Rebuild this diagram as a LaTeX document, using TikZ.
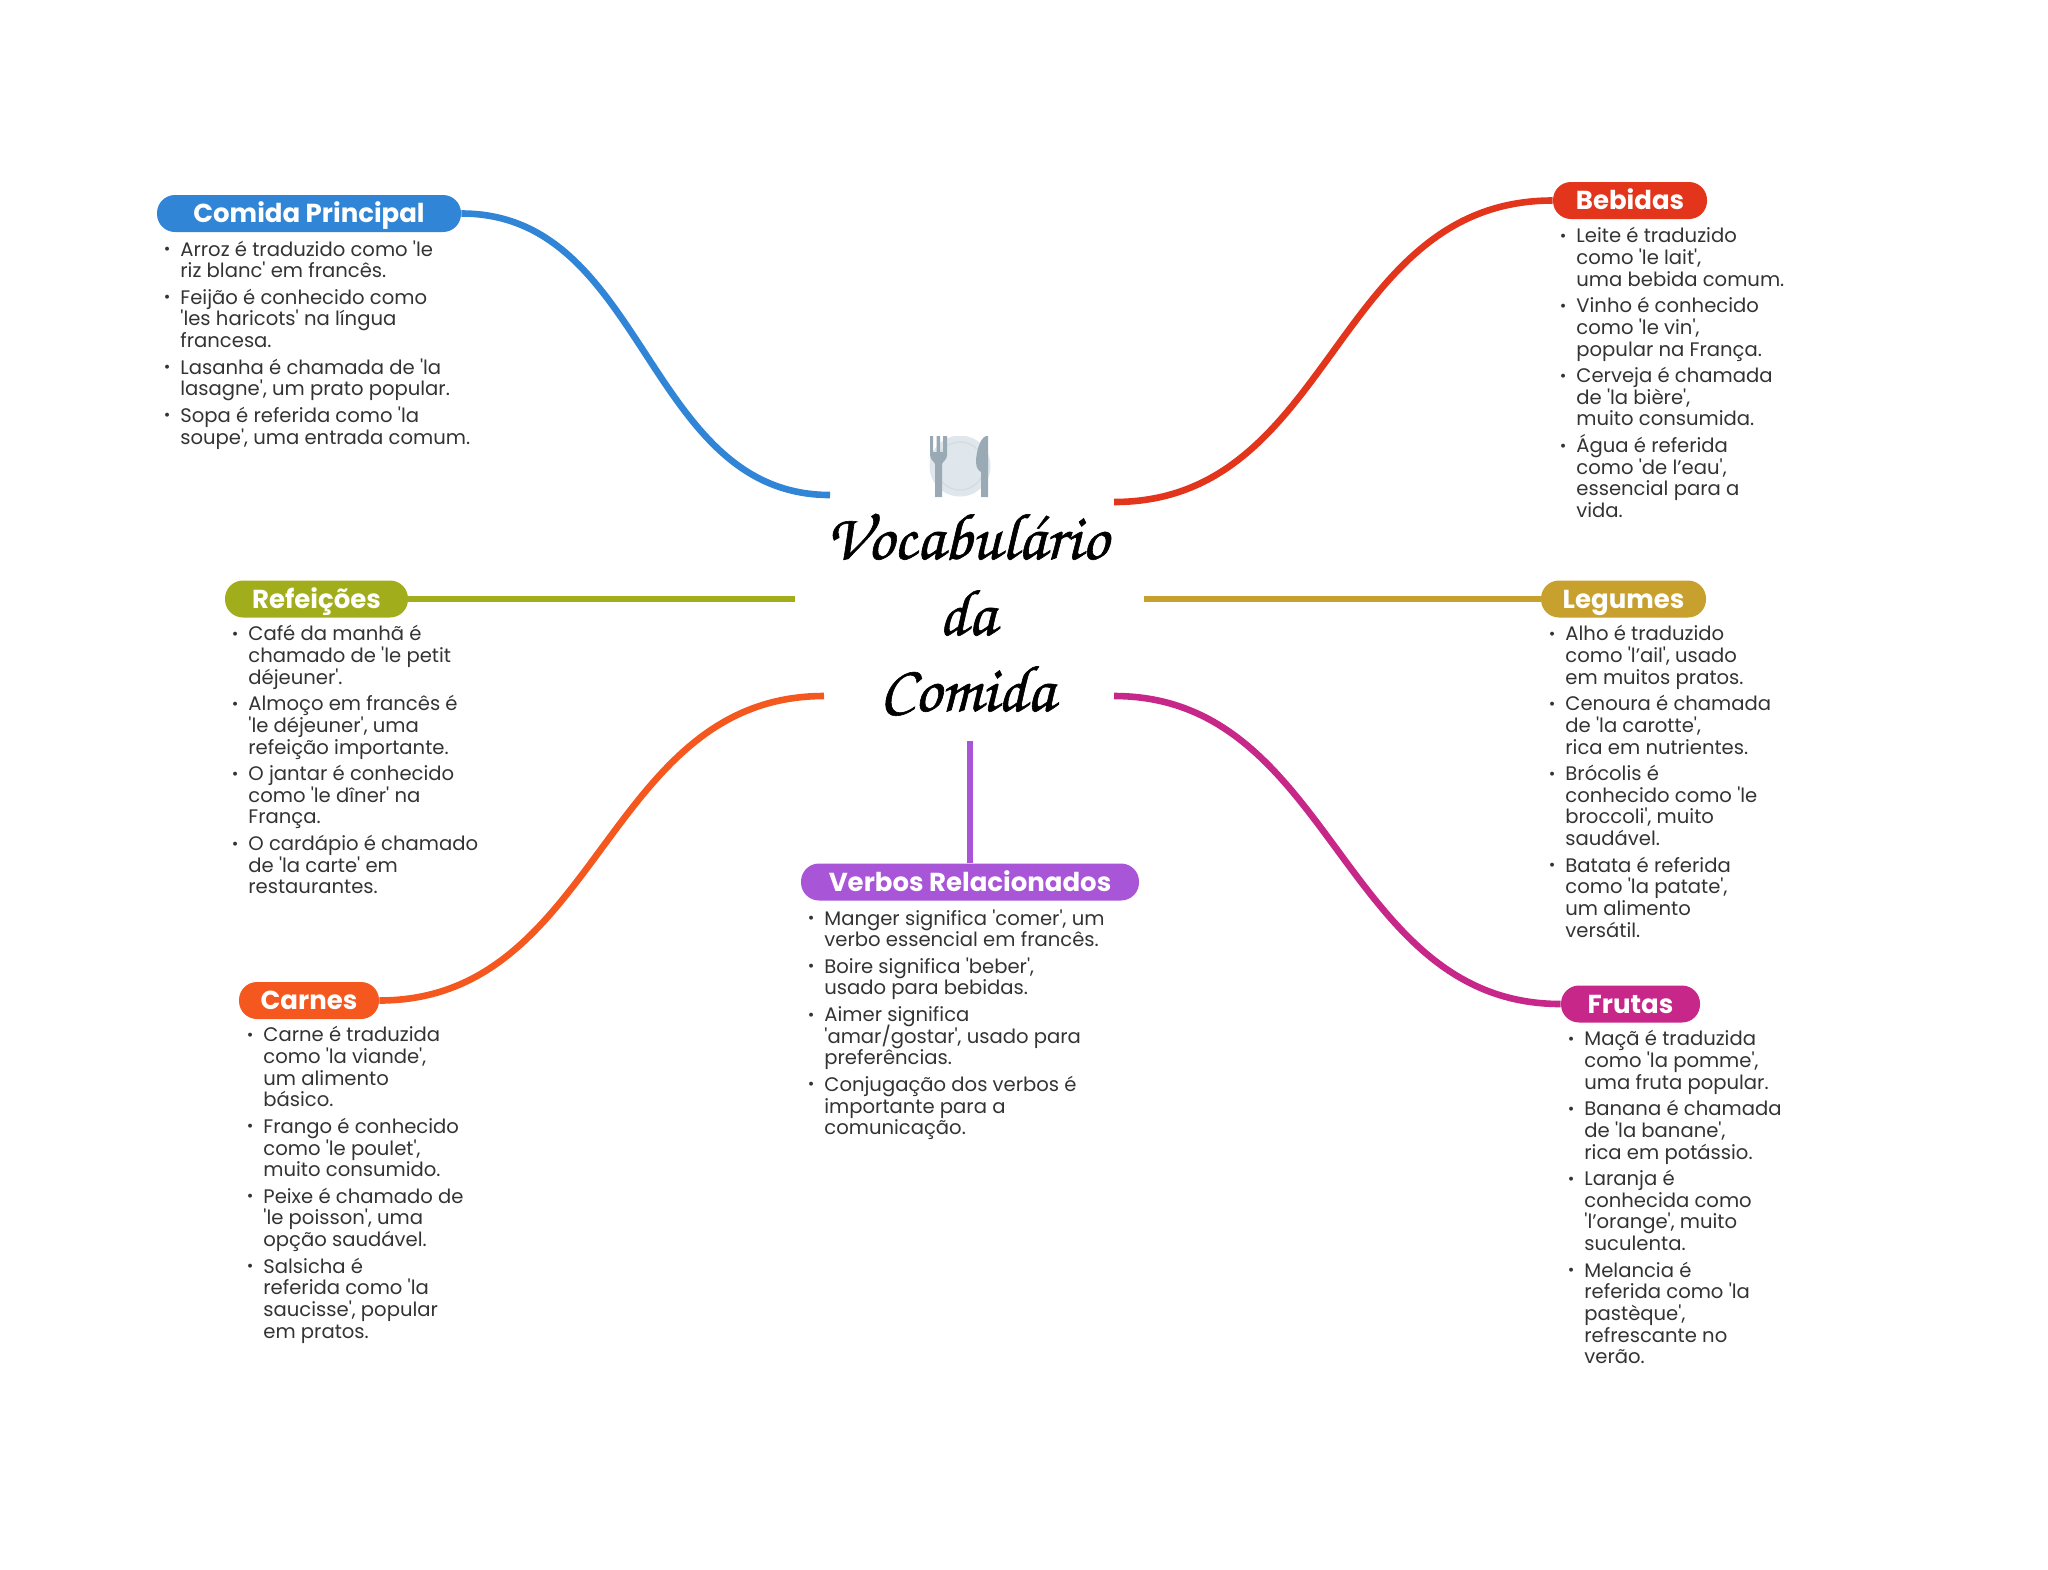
\documentclass[tikz,border=0pt]{standalone}
\usepackage[T1,TU]{fontenc}
\usepackage{fontspec}
\usetikzlibrary{positioning,calc}
\newfontfamily\bodyfont{Poppins}
\newfontfamily\headfont{Poppins Bold}
\definecolor{cazul}{HTML}{3085D6}
\definecolor{cverm}{HTML}{E3351B}
\definecolor{cverde}{HTML}{A2AD1C}
\definecolor{couro}{HTML}{C8A02E}
\definecolor{claranja}{HTML}{F4581F}
\definecolor{cmag}{HTML}{C8278A}
\definecolor{croxo}{HTML}{A855D8}
\definecolor{ctexto}{HTML}{333333}
\definecolor{cprato}{HTML}{DFE6EC}
\definecolor{caro}{HTML}{D3DCE3}
\definecolor{ctalher}{HTML}{9AAAB5}
\newcommand{\itm}{\strut\llap{\raisebox{0.7pt}{\fontsize{8}{8}\selectfont\textbullet}\hspace{5pt}}}
\newcommand{\fonteLista}{\bodyfont\fontsize{9.8}{10.85}\selectfont\setlength{\lineskiplimit}{-20pt}}
\tikzset{
  pill/.style={fill=#1,rounded corners=9pt,text=white,inner sep=0pt,minimum height=18.5pt,text height=11pt,text depth=2pt,font=\headfont\fontsize{13}{13}\selectfont},
  lista/.style={anchor=north west,inner sep=0pt,align=left,text=ctexto,font=\fonteLista},
  ramo/.style={draw=#1,line width=3.3pt}
}
\begin{document}
\begin{tikzpicture}[x=0.5pt,y=-0.5pt]
\useasboundingbox (0,0) rectangle (2048,1569);
\begin{scope}
\clip (925,436) rectangle (995,497);
\fill[cprato] (960,466) circle[radius=30.5];
\draw[caro,line width=0.6pt] (960,466) circle[radius=24];
\end{scope}
\fill[ctalher] (930,436) -- (933,436) -- (933,452) -- (936.5,452) -- (936.5,436) -- (940,436) -- (940,452) -- (943,452) -- (943,436) -- (947,436) -- (947,455) .. controls (947,460) and (943,461) .. (942,464) -- (942,497) -- (935,497) -- (935,464) .. controls (934,461) and (930,460) .. (930,455) -- cycle;
\fill[ctalher] (986,436) .. controls (980,438) and (976,452) .. (976,462) .. controls (976,468) and (979,471) .. (981,472) -- (981,497) -- (988,497) -- (988,436) -- cycle;
\node[align=center,inner sep=0pt,font=\fontencoding{T1}\fontfamily{pzc}\fontseries{mb}\fontshape{it}\fontsize{33}{38}\selectfont] (titulo) at (967,612) {\special{pdf:code 2 Tr 0.3 w}Vocabul\'ario\\\special{pdf:code 2 Tr 0.3 w}da\\\special{pdf:code 2 Tr 0.3 w}Comida};
\node[pill=cazul,minimum width=152pt] (principal) at (309,213.5) {Comida Principal};
\node[pill=cverm,minimum width=77pt] (bebidas) at (1630,200.5) {Bebidas};
\node[pill=cverde,minimum width=91.5pt] (refeicoes) at (316.5,599) {Refeições};
\node[pill=couro,minimum width=82.5pt] (legumes) at (1623.5,599) {Legumes};
\node[pill=claranja,minimum width=70pt] (carnes) at (309,1000.5) {Carnes};
\node[pill=cmag,minimum width=69.5pt] (frutas) at (1630.5,1004) {Frutas};
\node[pill=croxo,minimum width=169pt] (verbos) at (970,882) {Verbos Relacionados};
\coordinate (fimprincipal) at (830,495);
\coordinate (fimbebidas) at (1114,502);
\coordinate (fimrefeicoes) at (795,599);
\coordinate (fimlegumes) at (1144,599);
\coordinate (fimcarnes) at (824,696);
\coordinate (fimfrutas) at (1114,696);
\coordinate (fimverbos) at (970,741);
\draw[ramo=cazul] (principal.east) .. controls +(185,0) and +(-185,0) .. (fimprincipal);
\draw[ramo=cverm] (bebidas.west) .. controls +(-220,0) and +(220,0) .. (fimbebidas);
\draw[ramo=cverde] (refeicoes.east) -- (fimrefeicoes);
\draw[ramo=couro] (legumes.west) -- (fimlegumes);
\draw[ramo=claranja] (carnes.east) .. controls +(220,0) and +(-220,0) .. (fimcarnes);
\draw[ramo=cmag] (frutas.west) .. controls +(-220,0) and +(220,0) .. (fimfrutas);
\draw[ramo=croxo] (verbos.north) -- (fimverbos);
\node[lista] (tprincipal) at (180,240) {\itm Arroz é traduzido como 'le\\\strut riz blanc' em francês.\\[2.4pt]\itm Feijão é conhecido como\\\strut 'les haricots' na língua\\\strut francesa.\\[2.4pt]\itm Lasanha é chamada de 'la\\\strut lasagne', um prato popular.\\[2.4pt]\itm Sopa é referida como 'la\\\strut soupe', uma entrada comum.};
\node[lista] (tbebidas) at (1576,227) {\itm Leite é traduzido\\\strut como 'le lait',\\\strut uma bebida comum.\\[2.4pt]\itm Vinho é conhecido\\\strut como 'le vin',\\\strut popular na França.\\[2.4pt]\itm Cerveja é chamada\\\strut de 'la bière',\\\strut muito consumida.\\[2.4pt]\itm Água é referida\\\strut como 'de l’eau',\\\strut essencial para a\\\strut vida.};
\node[lista] (trefeicoes) at (248,625) {\itm Café da manhã é\\\strut chamado de 'le petit\\\strut déjeuner'.\\[2.4pt]\itm Almoço em francês é\\\strut 'le déjeuner', uma\\\strut refeição importante.\\[2.4pt]\itm O jantar é conhecido\\\strut como 'le dîner' na\\\strut França.\\[2.4pt]\itm O cardápio é chamado\\\strut de 'la carte' em\\\strut restaurantes.};
\node[lista] (tlegumes) at (1565,625) {\itm Alho é traduzido\\\strut como 'l’ail', usado\\\strut em muitos pratos.\\[2.4pt]\itm Cenoura é chamada\\\strut de 'la carotte',\\\strut rica em nutrientes.\\[2.4pt]\itm Brócolis é\\\strut conhecido como 'le\\\strut broccoli', muito\\\strut saudável.\\[2.4pt]\itm Batata é referida\\\strut como 'la patate',\\\strut um alimento\\\strut versátil.};
\node[lista] (tcarnes) at (263,1026) {\itm Carne é traduzida\\\strut como 'la viande',\\\strut um alimento\\\strut básico.\\[2.4pt]\itm Frango é conhecido\\\strut como 'le poulet',\\\strut muito consumido.\\[2.4pt]\itm Peixe é chamado de\\\strut 'le poisson', uma\\\strut opção saudável.\\[2.4pt]\itm Salsicha é\\\strut referida como 'la\\\strut saucisse', popular\\\strut em pratos.};
\node[lista] (tfrutas) at (1584,1030) {\itm Maçã é traduzida\\\strut como 'la pomme',\\\strut uma fruta popular.\\[2.4pt]\itm Banana é chamada\\\strut de 'la banane',\\\strut rica em potássio.\\[2.4pt]\itm Laranja é\\\strut conhecida como\\\strut 'l’orange', muito\\\strut suculenta.\\[2.4pt]\itm Melancia é\\\strut referida como 'la\\\strut pastèque',\\\strut refrescante no\\\strut verão.};
\node[lista] (tverbos) at (824,909) {\itm Manger significa 'comer', um\\\strut verbo essencial em francês.\\[2.4pt]\itm Boire significa 'beber',\\\strut usado para bebidas.\\[2.4pt]\itm Aimer significa\\\strut 'amar/gostar', usado para\\\strut preferências.\\[2.4pt]\itm Conjugação dos verbos é\\\strut importante para a\\\strut comunicação.};
\end{tikzpicture}
\end{document}
